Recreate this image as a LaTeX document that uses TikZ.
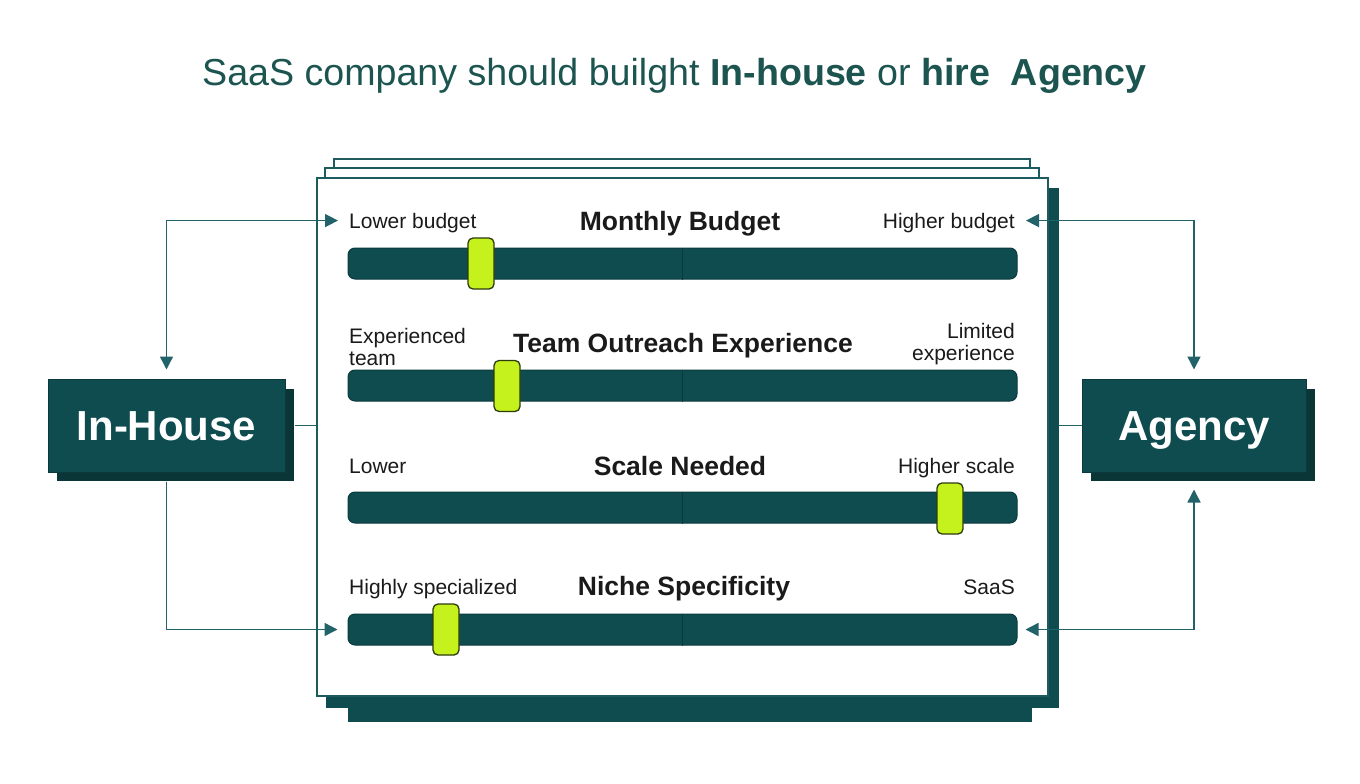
\documentclass[tikz,border=0pt]{standalone}
\usepackage{fontspec}
\setmainfont{Liberation Sans}
\usetikzlibrary{arrows.meta,backgrounds}
\definecolor{tealbox}{HTML}{0F4C50}
\definecolor{tealshadow}{HTML}{0A3638}
\definecolor{tealedge}{HTML}{0A3A3D}
\definecolor{arrowc}{HTML}{22636A}
\definecolor{panelc}{HTML}{1D5B5E}
\definecolor{titlec}{HTML}{1C5450}
\definecolor{ink}{HTML}{1A1A1A}
\definecolor{lime}{HTML}{C5F21C}
\definecolor{knobedge}{HTML}{2C3A0E}
\begin{document}
\begin{tikzpicture}[x=1pt,y=-1pt,
  lbl/.style={font=\fontsize{21}{22}\selectfont, text=ink, inner sep=0pt},
  hdr/.style={font=\bfseries\fontsize{26.5}{28}\selectfont, text=ink, inner sep=0pt, anchor=base},
  track/.style={draw=tealedge, fill=tealbox, rounded corners=7pt, minimum width=669pt, minimum height=31pt, inner sep=0pt, line width=1pt},
  knob/.style={draw=knobedge, fill=lime, rounded corners=5pt, minimum width=26pt, minimum height=51pt, inner sep=0pt, line width=1.3pt},
  bigbox/.style={fill=tealbox, draw=tealedge, line width=1pt, minimum height=93pt, text=white, font=\bfseries\fontsize{42}{44}\selectfont, inner sep=0pt, text height=30pt, text depth=1pt},
  conn/.style={draw=arrowc, line width=1.5pt},
  tip/.tip={Triangle[length=13pt,width=13pt]},
  page/.style={draw=panelc, fill=white, line width=1.5pt}
]
\useasboundingbox (0,0) rectangle (1360,784);
\fill[white] (0,0) rectangle (1360,784);

% title
\node[anchor=base, text=titlec, font=\fontsize{37.6}{40}\selectfont, inner sep=0pt] (title) at (674.5,85)
  {SaaS company should builght \textbf{In-house} or \textbf{hire}\ \ \textbf{Agency}};

% stacked pages and shadows
\draw[page] (334,159) rectangle (1030,400);
\draw[page] (325,168) rectangle (1039,400);
\fill[tealbox] (348,700) rectangle (1032,722);
\node[fill=tealbox, minimum width=733pt, minimum height=520pt, inner sep=0pt] (pshadow) at (692.5,448) {};
\node[page, minimum width=731pt, minimum height=518pt, inner sep=0pt] (panel) at (682.5,437) {};

% side boxes
\fill[tealshadow] (57,389) rectangle (294,481);
\node[bigbox, minimum width=237pt] (inh) at (166.5,425.5) {In-House};
\fill[tealshadow] (1091,389) rectangle (1315,481);
\node[bigbox, minimum width=224pt] (ag) at (1194,425.5) {Agency};

% row 1
\node[lbl, anchor=base west] (lb) at (349,228) {Lower budget};
\node[hdr] (h1) at (680,230) {Monthly Budget};
\node[lbl, anchor=base east] (hb) at (1015,228) {Higher budget};
\node[track] (t1) at (682.5,263.5) {};
\draw[tealedge, line width=1pt] (t1.north) -- (t1.south);
\node[knob] (k1) at (481,263.5) {};

% row 2
\node[lbl, anchor=base west] (ex1) at (349,343) {Experienced};
\node[lbl, anchor=base west] (ex2) at (349,365) {team};
\node[hdr] (h2) at (683,352) {Team Outreach Experience};
\node[lbl, anchor=base east] (li1) at (1015,338) {Limited};
\node[lbl, anchor=base east] (li2) at (1015,360) {experience};
\node[track] (t2) at (682.5,385.5) {};
\draw[tealedge, line width=1pt] (t2.north) -- (t2.south);
\node[knob] (k2) at (507,386) {};

% row 3
\node[lbl, anchor=base west] (lo) at (349,473) {Lower};
\node[hdr] (h3) at (680,475) {Scale Needed};
\node[lbl, anchor=base east] (hs) at (1015,473) {Higher scale};
\node[track] (t3) at (682.5,507.5) {};
\draw[tealedge, line width=1pt] (t3.north) -- (t3.south);
\node[knob] (k3) at (950,508.5) {};

% row 4
\node[lbl, anchor=base west] (hsp) at (349,594) {Highly specialized};
\node[hdr] (h4) at (684,595) {Niche Specificity};
\node[lbl, anchor=base east] (sa) at (1015,594) {SaaS};
\node[track] (t4) at (682.5,629.5) {};
\draw[tealedge, line width=1pt] (t4.north) -- (t4.south);
\node[knob] (k4) at (446,629.5) {};

% connectors
\draw[conn, tip-tip, shorten <=9pt, shorten >=11pt] (inh.north) |- ([yshift=2pt]lb.west);
\draw[conn, tip-tip, shorten <=9pt, shorten >=11pt] (ag.north) |- ([yshift=2pt]hb.east);
\draw[conn, -tip, shorten <=9pt, shorten >=10pt] (inh.south) |- (t4.west);
\draw[conn, tip-tip, shorten <=17pt, shorten >=8pt] (ag.south) |- (t4.east);
\draw[conn, shorten <=9pt] (inh.east) -- (inh.east -| panel.west);
\draw[conn] (ag.west) -- (ag.west -| pshadow.east);
\end{tikzpicture}
\end{document}
